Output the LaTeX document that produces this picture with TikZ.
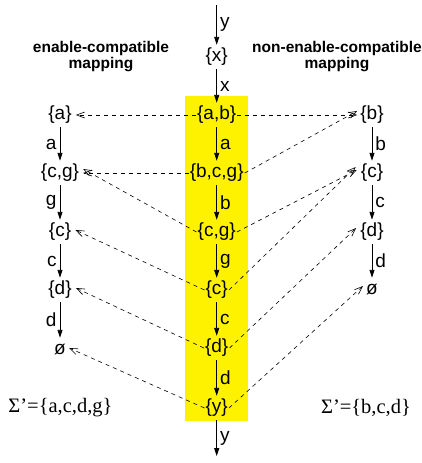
\documentclass[tikz,border=0pt]{standalone}
\usepackage{fontspec}
\setmainfont{Liberation Sans}
\newfontfamily\serifface{Liberation Serif}
\usetikzlibrary{arrows.meta}
\tikzset{
  st/.style={font=\fontsize{19}{19}\selectfont, inner xsep=1pt, inner ysep=3pt, text height=13pt, text depth=5pt},
  solidarr/.style={line width=0.9pt, -{Triangle[length=8pt,width=5pt]}},
  maparr/.style={line width=0.6pt, dash pattern=on 4pt off 4pt, -{Straight Barb[length=8pt,width=6pt]}},
  lbl/.style={font=\fontsize{19}{19}\selectfont, inner sep=3pt},
  head/.style={font=\fontsize{15.5}{16}\selectfont\bfseries, align=center},
  sig/.style={font=\fontsize{20.5}{20.5}\selectfont\serifface}
}
\begin{document}
\begin{tikzpicture}[x=1pt,y=-1pt]
\useasboundingbox (0,0) rectangle (422,463);
\fill[yellow] (185,96) rectangle (248,421);
% headings
\node[head] (h1) at (101,57) {enable-compatible\\mapping};
\node[head] (h2) at (337,57) {non-enable-compatible\\mapping};
% center column
\coordinate (ctop) at (216.7,5);
\coordinate (cbot) at (216.7,456);
\node[st] (cx) at (216.7,57) {\{x\}};
\node[st] (cab) at (216.7,115) {\{a,b\}};
\node[st] (cbcg) at (216.7,173) {\{b,c,g\}};
\node[st] (ccg) at (216.7,232) {\{c,g\}};
\node[st] (cc) at (216.7,290) {\{c\}};
\node[st] (cd) at (216.7,348) {\{d\}};
\node[st] (cy) at (216.7,408) {\{y\}};
% left column
\node[st] (la) at (60,115) {\{a\}};
\node[st] (lcg) at (60,173) {\{c,g\}};
\node[st] (lc) at (60,232) {\{c\}};
\node[st] (ld) at (60,290) {\{d\}};
\node[st] (le) at (60,350) {ø};
% right column
\node[st] (rb) at (372,115) {\{b\}};
\node[st] (rc) at (372,173) {\{c\}};
\node[st] (rd) at (372,232) {\{d\}};
\node[st] (re) at (372,290) {ø};
% sigma
\node[sig] (s1) at (60.5,408) {Σ’=\{a,c,d,g\}};
\node[sig] (s2) at (366,408) {Σ’=\{b,c,d\}};
% solid arrows center
\draw[solidarr] (ctop) -- node[lbl,right] {y} (cx);
\draw[solidarr] (cx) -- node[lbl,right] {x} (cab);
\draw[solidarr] (cab) -- node[lbl,right] {a} (cbcg);
\draw[solidarr] (cbcg) -- node[lbl,right] {b} (ccg);
\draw[solidarr] (ccg) -- node[lbl,right] {g} (cc);
\draw[solidarr] (cc) -- node[lbl,right] {c} (cd);
\draw[solidarr] (cd) -- node[lbl,right] {d} (cy);
\draw[solidarr] (cy) -- node[lbl,right] {y} (cbot);
% left solid
\draw[solidarr] (la) -- node[lbl,left] {a} (lcg);
\draw[solidarr] (lcg) -- node[lbl,left] {g} (lc);
\draw[solidarr] (lc) -- node[lbl,left] {c} (ld);
\draw[solidarr] (ld) -- node[lbl,left] {d} (le);
% right solid
\draw[solidarr] (rb) -- node[lbl,right] {b} (rc);
\draw[solidarr] (rc) -- node[lbl,right] {c} (rd);
\draw[solidarr] (rd) -- node[lbl,right] {d} (re);
% mapping left
\draw[maparr] (cab.west) -- ([xshift=3pt]la.east);
\draw[maparr] (cbcg.west) -- ([xshift=3pt]lcg.east);
\draw[maparr] (ccg.west) -- ([xshift=3pt,yshift=4pt]lcg.east);
\draw[maparr] (cc.west) -- ([xshift=3pt,yshift=2pt]lc.east);
\draw[maparr] (cd.west) -- ([xshift=3pt,yshift=2pt]ld.east);
\draw[maparr] (cy.west) -- ([xshift=2pt,yshift=2pt]le.east);
% mapping right
\draw[maparr] (cab.east) -- ([xshift=-2pt]rb.west);
\draw[maparr] (cbcg.east) -- ([xshift=-2pt,yshift=4pt]rb.west);
\draw[maparr] (ccg.east) -- ([xshift=-3pt,yshift=3pt]rc.west);
\draw[maparr] (cc.east) -- ([xshift=-4pt,yshift=6pt]rc.west);
\draw[maparr] (cd.east) -- ([xshift=-3pt,yshift=4pt]rd.west);
\draw[maparr] (cy.east) -- ([xshift=-2pt,yshift=4pt]re.west);
\end{tikzpicture}
\end{document}
